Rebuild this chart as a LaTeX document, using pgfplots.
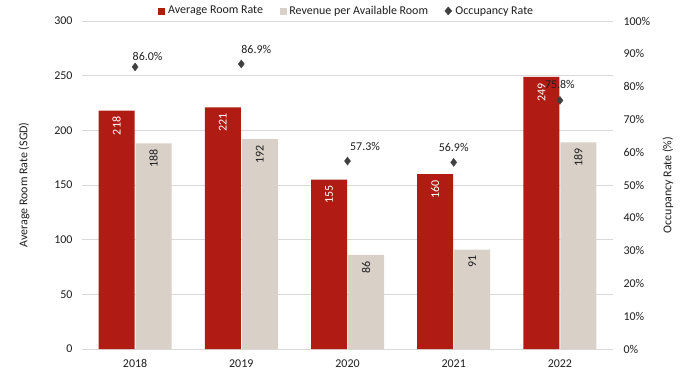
\documentclass[border=0pt]{standalone}
\usepackage{fontspec}
\setmainfont{Carlito}
\usepackage{pgfplots}
\pgfplotsset{compat=1.18}
\definecolor{arr}{RGB}{176,27,20}
\definecolor{rev}{RGB}{217,208,200}
\definecolor{occ}{RGB}{64,64,64}
\definecolor{gridc}{RGB}{217,217,217}
\definecolor{txt}{RGB}{30,30,30}
\begin{document}
\begin{tikzpicture}[x=1bp,y=1bp]
\path[use as bounding box] (0,0) rectangle (699,372);
\begin{axis}[
  at={(82bp,23bp)}, anchor=south west,
  scale only axis, width=531bp, height=328bp,
  xmin=-0.5, xmax=4.5, ymin=0, ymax=300,
  ytick={0,50,...,300},
  xtick={0,...,4}, xticklabels={2018,2019,2020,2021,2022},
  ymajorgrids, grid style={gridc, line width=0.75bp},
  axis line style={draw=none},
  major tick style={draw=none},
  ybar=1bp, bar width=36bp,
  font=\fontsize{12}{14}\selectfont,
  /pgf/number format/assume math mode=true,
  tick label style={text=txt},
  yticklabel style={xshift=-6bp},
  xticklabel style={yshift=-3bp},
  every axis y label/.style={at={(axis description cs:-0.109,0.5)}, rotate=90, anchor=center, text=txt},
  ylabel={Average Room Rate (SGD)},
  nodes near coords,
  every node near coord/.append style={rotate=90, anchor=east, inner xsep=6bp, inner ysep=0pt, font=\fontsize{12}{14}\selectfont},
]
\addplot[fill=arr, draw=none, every node near coord/.append style={text=white}] coordinates {(0,218) (1,221) (2,155) (3,160) (4,249)};
\addplot[fill=rev, draw=none, every node near coord/.append style={text=txt}] coordinates {(0,188) (1,192) (2,86) (3,91) (4,189)};
\end{axis}
\begin{axis}[
  at={(82bp,23bp)}, anchor=south west,
  scale only axis, width=531bp, height=328bp,
  xmin=-0.5, xmax=4.5, ymin=0, ymax=100,
  axis y line*=right, axis x line=none,
  axis line style={draw=none},
  major tick style={draw=none},
  ytick={0,10,...,100},
  yticklabel={\pgfmathprintnumber{\tick}\%},
  font=\fontsize{12}{14}\selectfont,
  /pgf/number format/assume math mode=true,
  tick label style={text=txt},
  yticklabel style={xshift=7bp},
  every axis y label/.style={at={(axis description cs:1.1036,0.5)}, rotate=90, anchor=center, text=txt},
  ylabel={Occupancy Rate (\%)},
  legend columns=3,
  legend style={draw=none, fill=none, at={(0.5,1)}, anchor=south, yshift=1bp,
    font=\fontsize{12}{14}\selectfont, text=txt,
    /tikz/every even column/.append style={column sep=13bp},
    nodes={inner xsep=3.5bp, inner ysep=2bp}},
]
\addlegendimage{legend image code/.code={\fill[arr] (0bp,-3bp) rectangle (6bp,3bp);}}
\addlegendentry{Average Room Rate}
\addlegendimage{legend image code/.code={\fill[rev] (0bp,-3bp) rectangle (6bp,3bp);}}
\addlegendentry{Revenue per Available Room}
\addplot[only marks, mark=diamond*, mark size=4bp, color=occ,
  legend image code/.code={\fill[occ] (3bp,4bp)--(6.5bp,0)--(3bp,-4bp)--(-0.5bp,0)--cycle;},
  visualization depends on={\thisrow{dx} \as \dx},
  visualization depends on={\thisrow{dy} \as \dy},
  nodes near coords={\pgfmathprintnumber[fixed,fixed zerofill,precision=1]{\pgfplotspointmeta}\%},
  every node near coord/.append style={anchor=south, inner sep=0pt, xshift=\dx bp, yshift=\dy bp, text=txt}]
  table[x=x, y=y] {
x y dx dy
0 86.0 12.5 6
1 86.9 15 10
2 57.3 17.5 10
3 56.9 0 11
4 75.8 0 12
};
\addlegendentry{Occupancy Rate}
\end{axis}
\end{tikzpicture}
\end{document}
